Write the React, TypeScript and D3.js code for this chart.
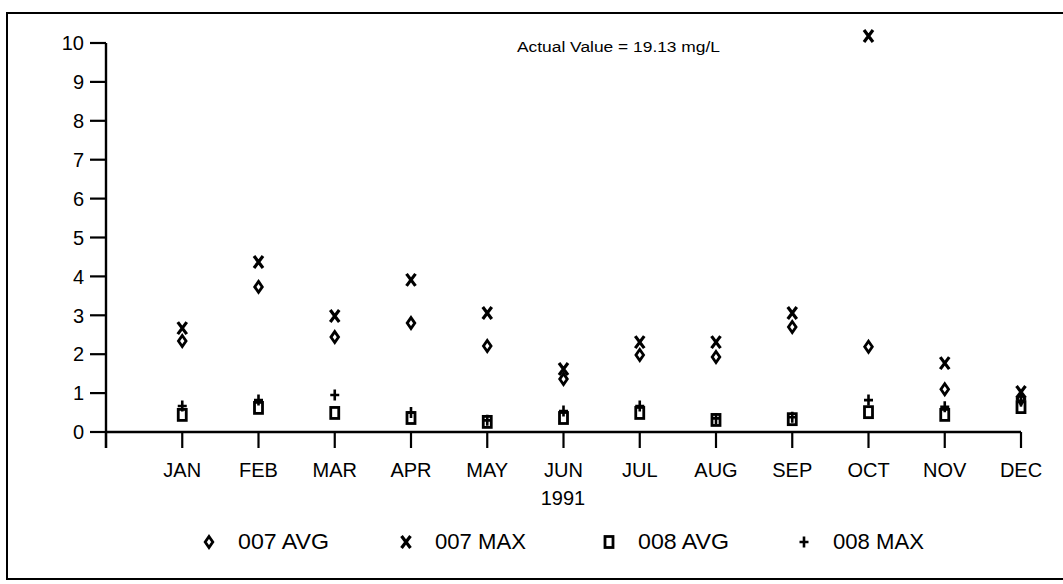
import React from "react";
import * as d3 from "d3";

const months = ["JAN", "FEB", "MAR", "APR", "MAY", "JUN", "JUL", "AUG", "SEP", "OCT", "NOV", "DEC"];
const yTicks = [0, 1, 2, 3, 4, 5, 6, 7, 8, 9, 10];
const avg007 = [2.34, 3.73, 2.44, 2.8, 2.21, 1.36, 1.98, 1.93, 2.7, 2.19, 1.1, 0.85];
const max007 = [2.67, 4.37, 2.98, 3.91, 3.06, 1.62, 2.31, 2.31, 3.06, 19.13, 1.77, 1.03];
const avg008 = [0.44, 0.62, 0.49, 0.36, 0.26, 0.36, 0.49, 0.31, 0.33, 0.51, 0.44, 0.64];
const max008 = [0.67, 0.82, 0.95, 0.5, 0.3, 0.54, 0.67, 0.35, 0.38, 0.82, 0.65, 0.8];
const xAxisLabel = "1991";
const note = "Actual Value = 19.13 mg/L";
const legendLabels = ["007 AVG", "007 MAX", "008 AVG", "008 MAX"];
const offScaleMax = 10.18;

const FONT = "'Liberation Sans', Arial, Helvetica, sans-serif";

function Marker({ kind, x, y }: { kind: number; x: number; y: number }) {
  if (kind === 0) {
    return (
      <path
        d={`M${x},${y - 5.5} L${x + 3.8},${y} L${x},${y + 5.5} L${x - 3.8},${y} Z`}
        fill="none"
        stroke="#000"
        strokeWidth={2.8}
      />
    );
  }
  if (kind === 1) {
    return (
      <path
        d={`M${x - 4.5},${y - 6} L${x + 4.5},${y + 6} M${x + 4.5},${y - 6} L${x - 4.5},${y + 6}`}
        fill="none"
        stroke="#000"
        strokeWidth={3.2}
      />
    );
  }
  if (kind === 2) {
    return <rect x={x - 4} y={y - 5.5} width={8} height={11} fill="none" stroke="#000" strokeWidth={2.8} />;
  }
  return (
    <path
      d={`M${x - 4.5},${y} L${x + 4.5},${y} M${x},${y - 5.5} L${x},${y + 5.5}`}
      fill="none"
      stroke="#000"
      strokeWidth={2.6}
    />
  );
}

export default function App() {
  const W = 1063;
  const H = 584;
  const x = d3.scaleLinear().domain([0, 12]).range([106, 1021]);
  const y = d3.scaleLinear().domain([0, 10]).range([432, 43]);
  const series = [avg007, max007, avg008, max008];
  const legendX = [209, 406, 609, 804];

  return (
    <svg
      width={W}
      height={H}
      style={{ position: "absolute", left: 0, top: 0, background: "#fff" }}
      fontFamily={FONT}
    >
      <rect x={0} y={0} width={W} height={H} fill="#fff" />
      {/* frame */}
      <path d={`M1063,13 L7,13 L7,579 L1063,579`} fill="none" stroke="#000" strokeWidth={2} />

      {/* y axis */}
      <line x1={106} x2={106} y1={y(10)} y2={448} stroke="#000" strokeWidth={2.4} />
      {yTicks.map((t) => (
        <g key={t}>
          <line x1={90} x2={106} y1={y(t)} y2={y(t)} stroke="#000" strokeWidth={2.2} />
          <text x={84} y={y(t)} dy="0.36em" textAnchor="end" fontSize={20}>
            {t}
          </text>
        </g>
      ))}

      {/* x axis */}
      <line x1={106} x2={x(12)} y1={432} y2={432} stroke="#000" strokeWidth={2.4} />
      {d3.range(0, 13).map((i) => (
        <line key={i} x1={x(i)} x2={x(i)} y1={432} y2={448} stroke="#000" strokeWidth={2.2} />
      ))}
      {months.map((m, i) => (
        <text key={m} x={x(i + 1)} y={477} textAnchor="middle" fontSize={20}>
          {m}
        </text>
      ))}
      <text x={563} y={505} textAnchor="middle" fontSize={20}>
        {xAxisLabel}
      </text>

      <text x={517} y={52} fontSize={15.5} textLength={203} lengthAdjust="spacingAndGlyphs">
        {note}
      </text>

      {/* points */}
      {series.map((s, k) =>
        s.map((v, i) => (
          <Marker key={`${k}-${i}`} kind={k} x={x(i + 1)} y={y(Math.min(v, offScaleMax))} />
        ))
      )}

      {/* legend */}
      {legendLabels.map((l, k) => (
        <g key={l}>
          <Marker kind={k} x={legendX[k]} y={542} />
          <text
            x={legendX[k] + 29}
            y={549}
            fontSize={22}
            textLength={91}
            lengthAdjust="spacingAndGlyphs"
          >
            {l}
          </text>
        </g>
      ))}
    </svg>
  );
}
